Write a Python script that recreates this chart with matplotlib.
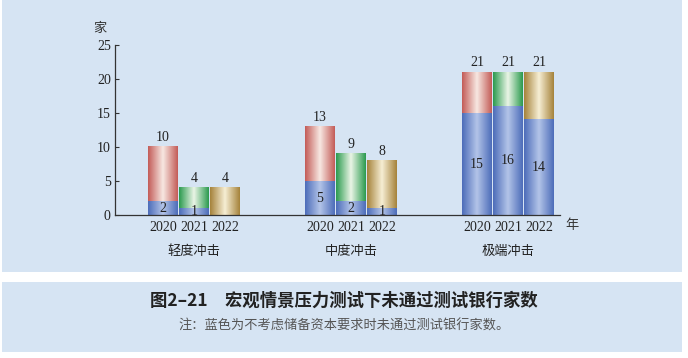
import matplotlib
matplotlib.use("Agg")
import matplotlib.pyplot as plt
import numpy as np
from matplotlib.colors import LinearSegmentedColormap
from matplotlib.patches import Rectangle

groups = ["轻度冲击", "中度冲击", "极端冲击"]
years = ["2020", "2021", "2022"]
totals = [[10, 4, 4], [13, 9, 8], [21, 21, 21]]
blue_vals = [[2, 1, 0], [5, 2, 1], [15, 16, 14]]
yticks = [0, 5, 10, 15, 20, 25]

year_colors = [("#c35b57", "#f7e8e2"), ("#2a9a4e", "#eaf5e6"), ("#a5823a", "#f6eed4")]
blue_color = ("#4c6cb9", "#b3c4e8")

plt.rcParams['font.family'] = ['Noto Sans CJK SC', 'DejaVu Sans']
serif = 'Liberation Serif'

fig = plt.figure(figsize=(6.88, 3.58), dpi=100)
fig.patch.set_facecolor("white")
bg = "#d6e4f3"
fig.patches.append(Rectangle((2/688, 1 - 272/358), 680/688, 272/358, transform=fig.transFigure,
                             facecolor=bg, edgecolor="none", zorder=-10))
fig.patches.append(Rectangle((2/688, 1 - 352/358), 680/688, 70/358, transform=fig.transFigure,
                             facecolor=bg, edgecolor="none", zorder=-10))

ax = fig.add_axes([115/688, 1 - 215/358, 445/688, 170/358])
ax.set_facecolor("none")

def grad_cmap(edge, center):
    return LinearSegmentedColormap.from_list("g", [edge, center, edge])

grad = np.linspace(0, 1, 256).reshape(1, -1)
step = 0.198
width = 0.19
for gi, g in enumerate(groups):
    for yi, yr in enumerate(years):
        x = gi + (yi - 1) * step
        b = blue_vals[gi][yi]
        t = totals[gi][yi]
        ec, cc = year_colors[yi]
        if t > b:
            ax.imshow(grad, cmap=grad_cmap(ec, cc), aspect='auto', interpolation='bilinear',
                      extent=(x - width/2, x + width/2, b, t), zorder=2)
        if b > 0:
            ax.imshow(grad, cmap=grad_cmap(*blue_color), aspect='auto', interpolation='bilinear',
                      extent=(x - width/2, x + width/2, 0, b), zorder=2)
            ax.text(x, b/2, str(b), ha='center', va='center', fontsize=10, family=serif,
                    color="#222222", zorder=3)
        ax.text(x, t + 0.4, str(t), ha='center', va='bottom', fontsize=10, family=serif,
                color="#222222", zorder=3)
        ax.text(x, -0.9, yr, ha='center', va='top', fontsize=10, family=serif, color="#222222")
    ax.text(gi, -4.4, g, ha='center', va='top', fontsize=9.5, color="#222222")

ax.set_xlim(-0.503, 2.331)
ax.set_ylim(0, 25)
ax.set_yticks(yticks)
ax.set_yticklabels([str(v) for v in yticks], family=serif, fontsize=10, color="#222222")
ax.set_xticks([])
ax.tick_params(axis='y', direction='in', length=3, width=0.8, color="#333333", pad=3)
for s in ["top", "right"]:
    ax.spines[s].set_visible(False)
for s in ["left", "bottom"]:
    ax.spines[s].set_color("#333333")
    ax.spines[s].set_linewidth(0.9)

fig.text(100/688, 1 - 28/358, "家", ha='center', va='center', fontsize=9.5, color="#333333")
fig.text(572/688, 1 - 226/358, "年", ha='center', va='center', fontsize=9.5, color="#333333")

fig.text(0.5, 1 - 301/358, "图2–21　宏观情景压力测试下未通过测试银行家数", ha='center', va='center',
         fontsize=12.5, fontweight='bold', color="#222222")
fig.text(0.5, 1 - 326/358, "注：蓝色为不考虑储备资本要求时未通过测试银行家数。", ha='center', va='center',
         fontsize=9.5, color="#555555")

fig.savefig("out.png", dpi=100)
